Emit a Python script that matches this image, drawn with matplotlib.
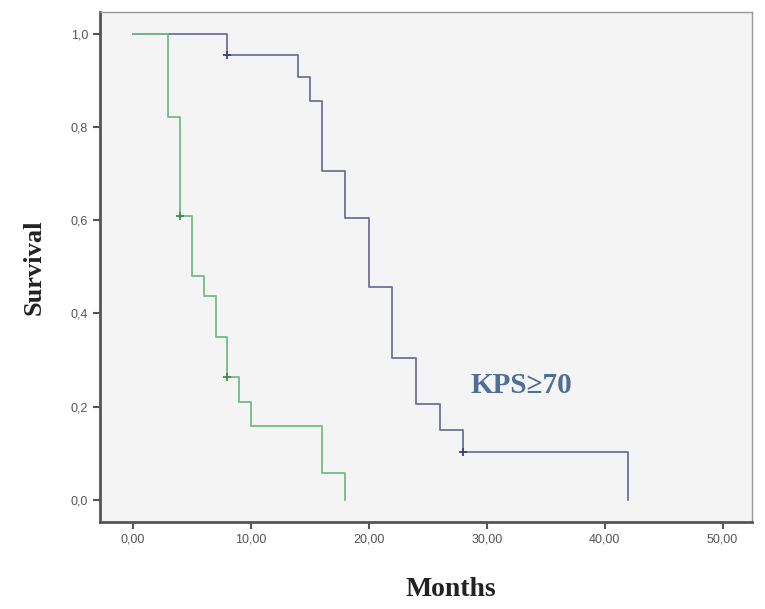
import numpy as np
import matplotlib.pyplot as plt
from matplotlib.ticker import FuncFormatter

# Kaplan-Meier steps
blue_times = [0, 8, 14, 15, 16, 18, 20, 22, 24, 26, 28, 42]
blue_surv = [1.0, 0.955, 0.906, 0.856, 0.706, 0.604, 0.456, 0.305, 0.205, 0.151, 0.104, 0.0]
blue_cens_t = [8, 28]
blue_cens_s = [0.955, 0.104]

green_times = [0, 3, 4, 5, 6, 7, 8, 9, 10, 16, 18]
green_surv = [1.0, 0.821, 0.609, 0.48, 0.437, 0.35, 0.263, 0.211, 0.159, 0.057, 0.0]
green_cens_t = [4, 8]
green_cens_s = [0.609, 0.263]

x_ticks = [0, 10, 20, 30, 40, 50]
y_ticks = [0.0, 0.2, 0.4, 0.6, 0.8, 1.0]

blue = "#6e7199"
green = "#74bb86"

fig = plt.figure(figsize=(7.65, 6.09), dpi=100)
ax = fig.add_axes([0.1307, 0.1429, 0.983 - 0.1307, 0.980 - 0.1429])
ax.set_facecolor("#f4f4f4")

ax.step(blue_times, blue_surv, where="post", color=blue, lw=1.3)
ax.step(green_times, green_surv, where="post", color=green, lw=1.3)
ax.plot(blue_cens_t, blue_cens_s, "+", color="#3c4178", ms=6, mew=1.3)
ax.plot(green_cens_t, green_cens_s, "+", color="#3f8a55", ms=6, mew=1.3)

ax.text(32.9, 0.245, "KPS\u226570", color="#4d6e96", fontsize=21,
        fontweight="bold", family="Liberation Serif", ha="center", va="center")

ax.set_xlim(-2.8, 52.5)
ax.set_ylim(-0.047, 1.046)
ax.set_xticks(x_ticks)
ax.set_yticks(y_ticks)
ax.xaxis.set_major_formatter(FuncFormatter(lambda v, p: f"{v:.2f}".replace(".", ",")))
ax.yaxis.set_major_formatter(FuncFormatter(lambda v, p: f"{v:.1f}".replace(".", ",")))
ax.tick_params(axis="both", direction="out", length=5, width=1.5, colors="#555555",
               labelsize=9, labelcolor="#555555")
for lab in ax.get_xticklabels() + ax.get_yticklabels():
    lab.set_family("Liberation Sans")

for side in ["left", "bottom"]:
    ax.spines[side].set_color("#555555")
    ax.spines[side].set_linewidth(2)
for side in ["top", "right"]:
    ax.spines[side].set_color("#999999")
    ax.spines[side].set_linewidth(1)

fig.text(451 / 765, 1 - 590 / 609, "Months", fontsize=20, fontweight="bold",
         family="Liberation Serif", color="#222222", ha="center", va="center")
ax.set_ylabel("Survival", fontsize=19, fontweight="bold", family="Liberation Serif",
              color="#222222", labelpad=18)

fig.savefig("out.png", dpi=100, facecolor="white")
